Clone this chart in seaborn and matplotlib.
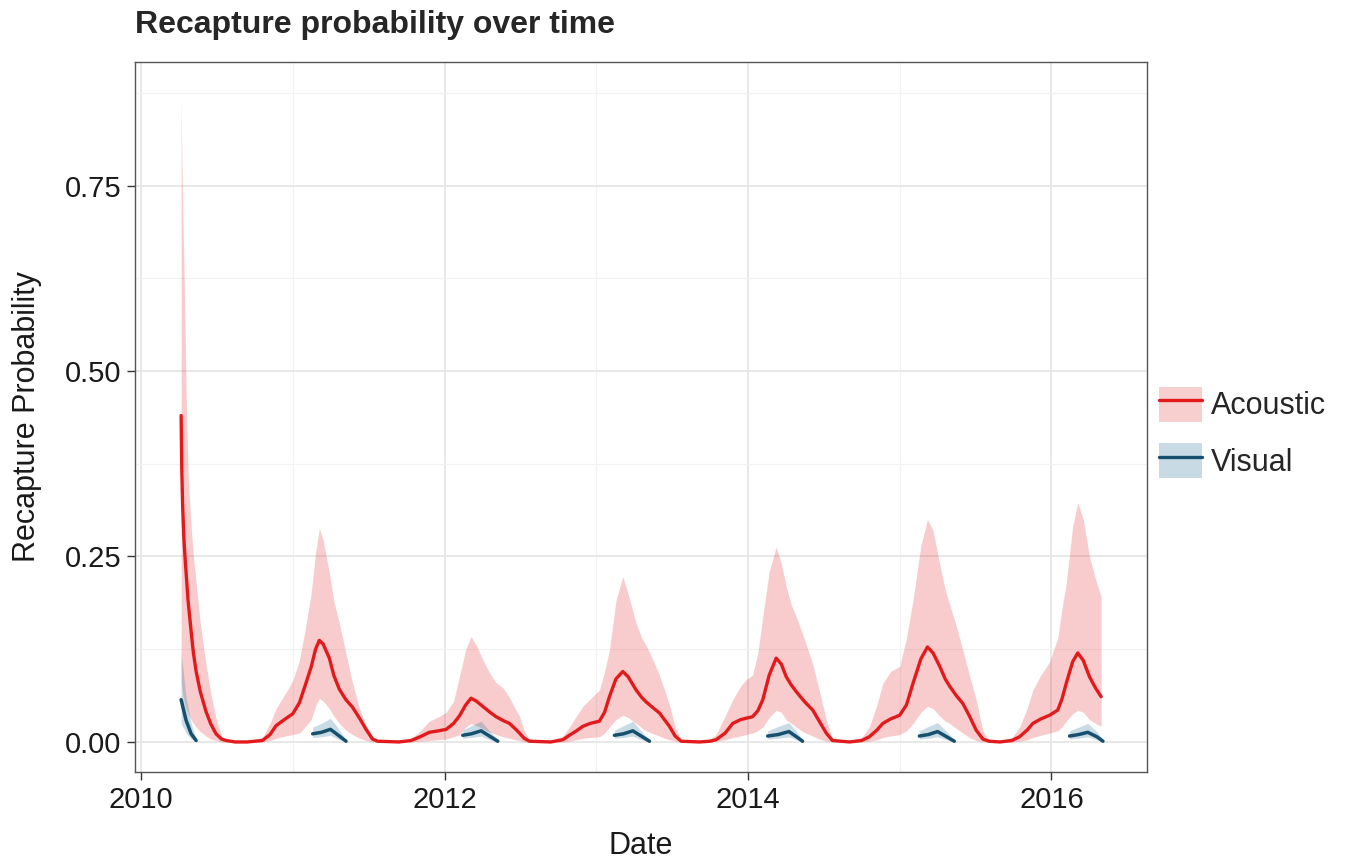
import numpy as np
import pandas as pd
import matplotlib
matplotlib.use("Agg")
import matplotlib.pyplot as plt
import seaborn as sns
from matplotlib.patches import Patch
from matplotlib.lines import Line2D
from matplotlib.ticker import MultipleLocator, FormatStrFormatter

# acoustic: decimal year, mean, lower and upper bounds (one row per season)
acoustic_year = [
    2010.264, 2010.268, 2010.274, 2010.282, 2010.290, 2010.297, 2010.310, 2010.330, 2010.345, 2010.363, 2010.390, 2010.428, 2010.460, 2010.494, 2010.530, 2010.560, 2010.620,
    2010.700, 2010.800, 2010.850, 2010.890, 2010.950, 2011.000, 2011.044, 2011.080, 2011.121, 2011.150, 2011.175, 2011.200, 2011.241, 2011.270, 2011.307, 2011.350, 2011.393, 2011.440, 2011.483, 2011.525, 2011.560,
    2011.700, 2011.780, 2011.840, 2011.900, 2011.960, 2012.011, 2012.060, 2012.098, 2012.140, 2012.175, 2012.210, 2012.252, 2012.300, 2012.340, 2012.385, 2012.428, 2012.465, 2012.494, 2012.525, 2012.560,
    2012.700, 2012.780, 2012.823, 2012.870, 2012.911, 2012.960, 2013.021, 2013.055, 2013.087, 2013.130, 2013.175, 2013.210, 2013.263, 2013.300, 2013.329, 2013.375, 2013.417, 2013.450, 2013.483, 2013.520, 2013.560,
    2013.680, 2013.750, 2013.790, 2013.850, 2013.900, 2013.950, 2013.988, 2014.030, 2014.065, 2014.098, 2014.140, 2014.186, 2014.220, 2014.252, 2014.285, 2014.318, 2014.370, 2014.427, 2014.470, 2014.516, 2014.557,
    2014.670, 2014.750, 2014.800, 2014.850, 2014.889, 2014.940, 2015.000, 2015.045, 2015.088, 2015.140, 2015.183, 2015.220, 2015.264, 2015.300, 2015.330, 2015.375, 2015.416, 2015.460, 2015.504, 2015.548, 2015.590,
    2015.660, 2015.740, 2015.790, 2015.840, 2015.878, 2015.930, 2015.988, 2016.042, 2016.070, 2016.098, 2016.140, 2016.174, 2016.210, 2016.251, 2016.290, 2016.328]
acoustic_mean = [
    0.440, 0.370, 0.318, 0.275, 0.248, 0.227, 0.190, 0.149, 0.120, 0.095, 0.068, 0.041, 0.024, 0.011, 0.004, 0.002, 0.000,
    0.000, 0.002, 0.010, 0.022, 0.031, 0.038, 0.053, 0.075, 0.101, 0.125, 0.137, 0.132, 0.113, 0.090, 0.071, 0.057, 0.047, 0.032, 0.017, 0.004, 0.001,
    0.000, 0.002, 0.007, 0.013, 0.015, 0.017, 0.025, 0.035, 0.050, 0.059, 0.055, 0.048, 0.040, 0.034, 0.029, 0.025, 0.018, 0.012, 0.005, 0.001,
    0.000, 0.003, 0.009, 0.015, 0.021, 0.025, 0.028, 0.040, 0.061, 0.085, 0.095, 0.088, 0.070, 0.060, 0.054, 0.046, 0.039, 0.030, 0.021, 0.008, 0.001,
    0.000, 0.001, 0.003, 0.012, 0.025, 0.030, 0.032, 0.034, 0.042, 0.057, 0.090, 0.113, 0.105, 0.088, 0.077, 0.068, 0.055, 0.043, 0.028, 0.012, 0.002,
    0.000, 0.002, 0.007, 0.016, 0.025, 0.031, 0.036, 0.050, 0.079, 0.112, 0.128, 0.120, 0.102, 0.085, 0.075, 0.062, 0.052, 0.035, 0.016, 0.004, 0.001,
    0.000, 0.002, 0.007, 0.016, 0.025, 0.031, 0.036, 0.043, 0.058, 0.079, 0.108, 0.120, 0.110, 0.088, 0.073, 0.061]
acoustic_lo = [
    0.080, 0.075, 0.065, 0.057, 0.050, 0.045, 0.038, 0.030, 0.025, 0.020, 0.014, 0.008, 0.004, 0.002, 0.000, 0.000, 0.000,
    0.000, 0.000, 0.002, 0.005, 0.008, 0.010, 0.012, 0.020, 0.030, 0.048, 0.059, 0.055, 0.045, 0.035, 0.025, 0.016, 0.010, 0.005, 0.002, 0.000, 0.000,
    0.000, 0.000, 0.001, 0.002, 0.003, 0.004, 0.007, 0.010, 0.020, 0.025, 0.022, 0.018, 0.013, 0.010, 0.007, 0.005, 0.003, 0.002, 0.000, 0.000,
    0.000, 0.000, 0.001, 0.003, 0.005, 0.006, 0.007, 0.012, 0.020, 0.030, 0.036, 0.033, 0.025, 0.019, 0.015, 0.011, 0.008, 0.005, 0.003, 0.001, 0.000,
    0.000, 0.000, 0.001, 0.003, 0.006, 0.008, 0.010, 0.012, 0.015, 0.020, 0.033, 0.043, 0.040, 0.030, 0.025, 0.020, 0.013, 0.008, 0.004, 0.001, 0.000,
    0.000, 0.000, 0.001, 0.003, 0.006, 0.008, 0.010, 0.015, 0.025, 0.040, 0.048, 0.045, 0.035, 0.028, 0.025, 0.018, 0.012, 0.006, 0.002, 0.000, 0.000,
    0.000, 0.000, 0.001, 0.003, 0.006, 0.009, 0.012, 0.015, 0.020, 0.028, 0.038, 0.043, 0.040, 0.030, 0.025, 0.021]
acoustic_hi = [
    0.870, 0.800, 0.720, 0.650, 0.560, 0.470, 0.360, 0.290, 0.250, 0.215, 0.160, 0.105, 0.065, 0.032, 0.008, 0.003, 0.001,
    0.001, 0.006, 0.025, 0.045, 0.065, 0.083, 0.110, 0.150, 0.200, 0.255, 0.288, 0.272, 0.228, 0.190, 0.160, 0.120, 0.080, 0.045, 0.022, 0.008, 0.002,
    0.001, 0.005, 0.015, 0.028, 0.034, 0.040, 0.055, 0.088, 0.125, 0.142, 0.130, 0.111, 0.092, 0.080, 0.073, 0.060, 0.045, 0.035, 0.015, 0.003,
    0.001, 0.008, 0.020, 0.035, 0.048, 0.058, 0.070, 0.095, 0.124, 0.190, 0.223, 0.200, 0.160, 0.140, 0.130, 0.110, 0.090, 0.070, 0.050, 0.020, 0.003,
    0.001, 0.004, 0.010, 0.035, 0.057, 0.075, 0.084, 0.090, 0.120, 0.169, 0.230, 0.263, 0.240, 0.210, 0.185, 0.169, 0.140, 0.105, 0.070, 0.030, 0.005,
    0.001, 0.006, 0.020, 0.050, 0.079, 0.095, 0.102, 0.140, 0.191, 0.265, 0.300, 0.285, 0.240, 0.205, 0.185, 0.155, 0.124, 0.090, 0.057, 0.015, 0.002,
    0.001, 0.006, 0.020, 0.045, 0.070, 0.090, 0.108, 0.140, 0.180, 0.214, 0.290, 0.323, 0.300, 0.250, 0.220, 0.196]

# visual: short segments each spring
visual_seg = [0] * 4 + [1] * 5 + [2] * 5 + [3] * 5 + [4] * 5 + [5] * 5 + [6] * 5
visual_year = [2010.264, 2010.297, 2010.330, 2010.363,
               2011.131, 2011.189, 2011.248, 2011.294, 2011.351,
               2012.120, 2012.177, 2012.241, 2012.296, 2012.351,
               2013.120, 2013.180, 2013.241, 2013.296, 2013.351,
               2014.130, 2014.200, 2014.270, 2014.320, 2014.360,
               2015.130, 2015.190, 2015.250, 2015.310, 2015.360,
               2016.120, 2016.180, 2016.240, 2016.300, 2016.340]
visual_mean = [0.057, 0.029, 0.011, 0.002,
               0.011, 0.013, 0.017, 0.010, 0.001,
               0.009, 0.011, 0.015, 0.008, 0.001,
               0.009, 0.011, 0.015, 0.008, 0.001,
               0.008, 0.010, 0.014, 0.007, 0.001,
               0.008, 0.010, 0.014, 0.007, 0.001,
               0.008, 0.010, 0.013, 0.007, 0.001]
visual_lo = [0.025, 0.012, 0.004, 0.000,
             0.006, 0.007, 0.009, 0.004, 0.000,
             0.005, 0.006, 0.008, 0.003, 0.000,
             0.005, 0.006, 0.008, 0.003, 0.000,
             0.004, 0.005, 0.007, 0.003, 0.000,
             0.004, 0.005, 0.007, 0.003, 0.000,
             0.004, 0.005, 0.007, 0.003, 0.000]
visual_hi = [0.120, 0.060, 0.025, 0.005,
             0.020, 0.025, 0.032, 0.020, 0.003,
             0.016, 0.022, 0.028, 0.015, 0.003,
             0.016, 0.022, 0.028, 0.015, 0.003,
             0.015, 0.021, 0.026, 0.014, 0.003,
             0.015, 0.021, 0.026, 0.014, 0.003,
             0.015, 0.020, 0.025, 0.014, 0.003]

RED = '#e31a1c'
BLUE = '#17506f'

sns.set_style('white')
plt.rcParams['font.family'] = ['Liberation Sans', 'DejaVu Sans']

acoustic = pd.DataFrame({'year': acoustic_year, 'p': acoustic_mean, 'lo': acoustic_lo, 'hi': acoustic_hi})
visual = pd.DataFrame({'year': visual_year, 'p': visual_mean, 'lo': visual_lo, 'hi': visual_hi, 'seg': visual_seg})

fig = plt.figure(figsize=(13.5, 8.65), dpi=100)
ax = fig.add_axes([0.1, 0.1075, 0.7496, 0.8208])

# ribbons
ax.fill_between(acoustic['year'], acoustic['lo'], acoustic['hi'], color=RED, alpha=0.22, linewidth=0, zorder=2)
for s, g in visual.groupby('seg'):
    ax.fill_between(g['year'], g['lo'], g['hi'], color='#1f6a94', alpha=0.24, linewidth=0, zorder=2)

sns.lineplot(data=acoustic, x='year', y='p', color=RED, linewidth=2.4, ax=ax, zorder=4)
sns.lineplot(data=visual, x='year', y='p', units='seg', estimator=None, color=BLUE, linewidth=2.5, ax=ax, zorder=4)

ax.set_xlim(2009.96, 2016.63)
ax.set_ylim(-0.0405, 0.9165)
ax.xaxis.set_major_locator(MultipleLocator(2))
ax.xaxis.set_minor_locator(MultipleLocator(1))
ax.xaxis.set_major_formatter(FormatStrFormatter('%d'))
ax.yaxis.set_major_locator(MultipleLocator(0.25))
ax.yaxis.set_minor_locator(MultipleLocator(0.125))
ax.yaxis.set_major_formatter(FormatStrFormatter('%.2f'))
ax.set_yticks([0, 0.25, 0.5, 0.75])

ax.grid(which='major', color='#e6e6e6', linewidth=1.3, zorder=0)
ax.grid(which='minor', color='#f2f2f2', linewidth=0.9, zorder=0)
ax.set_axisbelow(True)
for sp in ax.spines.values():
    sp.set_color('#555555')
    sp.set_linewidth(1.0)

ax.tick_params(axis='both', which='major', direction='out', length=6, width=1, color='#333333',
               labelsize=21, labelcolor='#1a1a1a', bottom=True, left=True, pad=4)
ax.tick_params(axis='both', which='minor', length=0)

ax.set_xlabel('Date', fontsize=22, color='#1a1a1a', labelpad=12)
ax.set_ylabel('Recapture Probability', fontsize=22, color='#1a1a1a', labelpad=16)
ax.set_title('Recapture probability over time', loc='left', fontsize=23, fontweight='bold', x=0.0, pad=21)

handles = [(Patch(facecolor='#f8cfcf', edgecolor='none'), Line2D([], [], color=RED, linewidth=2.4)),
           (Patch(facecolor='#c8dbe4', edgecolor='none'), Line2D([], [], color=BLUE, linewidth=2.4))]
fig.legend(handles, ['Acoustic', 'Visual'], loc='center left', bbox_to_anchor=(0.8496, 0.5),
           borderaxespad=0, frameon=False, fontsize=22, handlelength=1.4, handleheight=1.4,
           labelspacing=0.7, handletextpad=0.3)

fig.savefig('out.png', dpi=100)
